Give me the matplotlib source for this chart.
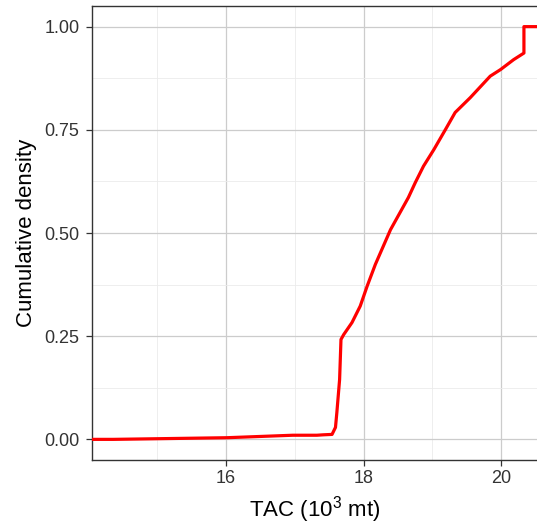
import matplotlib.pyplot as plt

plt.rcParams['font.family'] = ['Liberation Sans', 'DejaVu Sans']
plt.rcParams['mathtext.fontset'] = 'custom'
plt.rcParams['mathtext.rm'] = 'Liberation Sans'

# ECDF of TAC (10^3 mt)
tac = [14.36, 16.01, 16.97, 17.32, 17.41, 17.54, 17.59, 17.61, 17.65, 17.67,
       17.71, 17.83, 17.95, 18.05, 18.17, 18.39, 18.53, 18.65, 18.75, 18.87,
       19.02, 19.19, 19.33, 19.55, 19.84, 19.99, 20.18, 20.33, 20.33]
cum_density = [0.000, 0.004, 0.010, 0.010, 0.011, 0.012, 0.029, 0.065, 0.145, 0.242,
               0.254, 0.283, 0.323, 0.371, 0.424, 0.508, 0.550, 0.586, 0.622, 0.662,
               0.702, 0.751, 0.792, 0.828, 0.880, 0.896, 0.920, 0.936, 1.000]

X_LIM = (14.05, 20.52)
Y_LIM = (-0.05, 1.05)

fig = plt.figure(figsize=(5.37, 5.26), dpi=100)
ax = fig.add_axes([92 / 537, 66 / 526, 1 - 92 / 537, (460 - 6) / 526])

# stat_ecdf style: pad to the panel edges
xs = [X_LIM[0]] + tac + [X_LIM[1]]
ys = [cum_density[0]] + cum_density + [cum_density[-1]]
ax.plot(xs, ys, color='#ff0000', lw=2.3, solid_joinstyle='round', zorder=3)

ax.set_xlim(*X_LIM)
ax.set_ylim(*Y_LIM)
ax.set_xticks([16, 18, 20])
ax.set_yticks([0, 0.25, 0.5, 0.75, 1.0])
ax.set_yticklabels(['0.00', '0.25', '0.50', '0.75', '1.00'])
ax.yaxis.set_minor_locator(plt.FixedLocator([0.125, 0.375, 0.625, 0.875]))
ax.xaxis.set_minor_locator(plt.FixedLocator([15, 17, 19]))

ax.grid(which='major', color='#cccccc', lw=0.9)
ax.grid(which='minor', color='#ebebeb', lw=0.6)
ax.set_axisbelow(True)

for side in ['left', 'top', 'bottom']:
    ax.spines[side].set_color('#333333')
    ax.spines[side].set_linewidth(1.0)
ax.spines['right'].set_visible(False)

ax.tick_params(which='major', length=4, width=0.9, color='#333333',
               labelsize=13, labelcolor='#333333', pad=3)
ax.tick_params(axis='y', pad=5)
ax.tick_params(which='minor', length=0)

ax.set_xlabel(r'TAC (10$^3$ mt)', fontsize=16, labelpad=5)
ax.set_ylabel('Cumulative density', fontsize=16, labelpad=5)

fig.savefig('out.png', dpi=100)
